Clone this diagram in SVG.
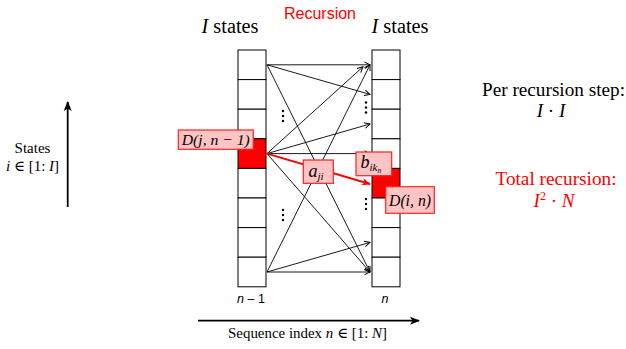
<svg xmlns="http://www.w3.org/2000/svg" width="626" height="349" viewBox="0 0 626 349">
<style>
.cell{fill:#fff;stroke:#000;stroke-width:1}
.red{fill:#ff0000;stroke:#000;stroke-width:1}
.ln{stroke:#000;stroke-width:0.9;fill:none}
.lbl{fill:#ffc4c4;stroke:#ff2020;stroke-width:1.2}
.m{font-family:"Liberation Serif","DejaVu Serif",serif;font-style:italic}
.t{font-family:"Liberation Serif","DejaVu Serif",serif}
.s{font-family:"Liberation Sans",Arial,sans-serif}
.dot{fill:#000}
</style>
<defs>
<marker id="ah" viewBox="0 0 10 10" refX="9" refY="5" markerWidth="7" markerHeight="7" markerUnits="userSpaceOnUse" orient="auto">
<path d="M1,1 L9,5 L1,9" fill="none" stroke="#000" stroke-width="1.4"/>
</marker>
<marker id="ahr" viewBox="0 0 10 10" refX="9" refY="5" markerWidth="9" markerHeight="9" markerUnits="userSpaceOnUse" orient="auto">
<path d="M0,1 L10,5 L0,9 L3,5 Z" fill="#ff0000"/>
</marker>
<marker id="ahb" viewBox="0 0 10 10" refX="9" refY="5" markerWidth="10" markerHeight="10" markerUnits="userSpaceOnUse" orient="auto">
<path d="M0,1 L10,5 L0,9 L2.5,5 Z" fill="#000"/>
</marker>
</defs>
<rect width="626" height="349" fill="#fff"/>

<g id="titles">
<text x="230" y="33" text-anchor="middle" font-size="20" class="t" textLength="57" lengthAdjust="spacingAndGlyphs"><tspan class="m">I</tspan> states</text>
<text x="400" y="33" text-anchor="middle" font-size="20" class="t" textLength="57" lengthAdjust="spacingAndGlyphs"><tspan class="m">I</tspan> states</text>
<text x="320" y="19" text-anchor="middle" font-size="16" class="s" fill="#ff0000">Recursion</text>
</g>

<g id="col-left">
<rect class="cell" x="238" y="50" width="28" height="29.6"/>
<rect class="cell" x="238" y="79.6" width="28" height="29.6"/>
<rect class="cell" x="238" y="109.2" width="28" height="29.6"/>
<rect class="red" x="238" y="138.8" width="28" height="29.6"/>
<rect class="cell" x="238" y="168.4" width="28" height="29.6"/>
<rect class="cell" x="238" y="198" width="28" height="29.6"/>
<rect class="cell" x="238" y="227.6" width="28" height="29.6"/>
<rect class="cell" x="238" y="257.2" width="28" height="29.6"/>
</g>
<g id="col-right">
<rect class="cell" x="372" y="50" width="28" height="29.6"/>
<rect class="cell" x="372" y="79.6" width="28" height="29.6"/>
<rect class="cell" x="372" y="109.2" width="28" height="29.6"/>
<rect class="cell" x="372" y="138.8" width="28" height="29.6"/>
<rect class="red" x="372" y="168.4" width="28" height="29.6"/>
<rect class="cell" x="372" y="198" width="28" height="29.6"/>
<rect class="cell" x="372" y="227.6" width="28" height="29.6"/>
<rect class="cell" x="372" y="257.2" width="28" height="29.6"/>
</g>

<g id="connectors">
<line class="ln" x1="267" y1="64.8" x2="370" y2="64.8" marker-end="url(#ah)"/>
<line class="ln" x1="267" y1="64.8" x2="370" y2="94.4" marker-end="url(#ah)"/>
<line class="ln" x1="267" y1="64.8" x2="370" y2="272" marker-end="url(#ah)"/>
<line class="ln" x1="267" y1="153.6" x2="363" y2="66.8" marker-end="url(#ah)"/>
<line class="ln" x1="267" y1="153.6" x2="370" y2="124" marker-end="url(#ah)"/>
<line class="ln" x1="267" y1="153.6" x2="370" y2="153.6" marker-end="url(#ah)"/>
<line class="ln" x1="267" y1="153.6" x2="370" y2="272" marker-end="url(#ah)"/>
<line class="ln" x1="267" y1="272" x2="370" y2="272" marker-end="url(#ah)"/>
<line class="ln" x1="267" y1="272" x2="370" y2="242.4" marker-end="url(#ah)"/>
<line class="ln" x1="267" y1="272" x2="370" y2="64.8" marker-end="url(#ah)"/>
<line x1="267" y1="153.6" x2="370" y2="184" stroke="#ff0000" stroke-width="2" marker-end="url(#ahr)"/>
<line x1="67.7" y1="207" x2="67.7" y2="102" stroke="#000" stroke-width="1.8" marker-end="url(#ahb)"/>
<line x1="198" y1="320.7" x2="419" y2="320.7" stroke="#000" stroke-width="1.8" marker-end="url(#ahb)"/>
</g>

<g id="dots">
<circle class="dot" cx="283" cy="111" r="1.2"/><circle class="dot" cx="283" cy="116" r="1.2"/><circle class="dot" cx="283" cy="121" r="1.2"/>
<circle class="dot" cx="366" cy="102.5" r="1.2"/><circle class="dot" cx="366" cy="107.5" r="1.2"/><circle class="dot" cx="366" cy="112.5" r="1.2"/>
<circle class="dot" cx="283" cy="210" r="1.2"/><circle class="dot" cx="283" cy="215" r="1.2"/><circle class="dot" cx="283" cy="220" r="1.2"/>
<circle class="dot" cx="366" cy="199" r="1.2"/><circle class="dot" cx="366" cy="204" r="1.2"/><circle class="dot" cx="366" cy="209" r="1.2"/>
</g>

<g id="label-Djn1">
<rect class="lbl" x="178.3" y="130" width="75" height="19.3"/>
<text x="215.8" y="145" text-anchor="middle" font-size="15.5" class="m" textLength="68" lengthAdjust="spacingAndGlyphs">D(j, n − 1)</text>
</g>
<g id="label-aji">
<rect class="lbl" x="303.3" y="160" width="30" height="23.3"/>
<text x="308.5" y="177" font-size="18" class="m">a<tspan font-size="11" dy="3">ji</tspan></text>
</g>
<g id="label-bikn">
<rect class="lbl" x="356" y="152" width="35.7" height="23.7"/>
<text x="360.5" y="168" font-size="18" class="m">b<tspan font-size="11" dy="3">ik</tspan><tspan font-size="7.5" dy="2">n</tspan></text>
</g>
<g id="label-Din">
<rect class="lbl" x="385.7" y="186.7" width="48.6" height="26.6"/>
<text x="410" y="205.5" text-anchor="middle" font-size="16" class="m" textLength="42" lengthAdjust="spacingAndGlyphs">D(i, n)</text>
</g>

<g id="axis-labels">
<text x="251" y="303" text-anchor="middle" font-size="12.5" class="s"><tspan font-style="italic">n</tspan> – 1</text>
<text x="385" y="303" text-anchor="middle" font-size="12.5" class="s" font-style="italic">n</text>
<text x="307.5" y="338" text-anchor="middle" font-size="15" class="t" textLength="159" lengthAdjust="spacingAndGlyphs">Sequence index <tspan class="m">n</tspan> ∈ [1: <tspan class="m">N</tspan>]</text>
<text x="32.5" y="153" text-anchor="middle" font-size="15" class="t">States</text>
<text x="32.5" y="171" text-anchor="middle" font-size="15" class="t"><tspan class="m">i</tspan> ∈ [1: <tspan class="m">I</tspan>]</text>
</g>

<g id="complexity">
<text x="553.5" y="96" text-anchor="middle" font-size="19" class="t" textLength="143" lengthAdjust="spacingAndGlyphs">Per recursion step:</text>
<text x="551" y="117" text-anchor="middle" font-size="19" class="t"><tspan class="m">I</tspan> · <tspan class="m">I</tspan></text>
<text x="556" y="185" text-anchor="middle" font-size="19" class="t" fill="#ff0000" textLength="121" lengthAdjust="spacingAndGlyphs">Total recursion:</text>
<text x="554" y="207" text-anchor="middle" font-size="19" class="t" fill="#ff0000"><tspan class="m">I</tspan><tspan font-size="12" dy="-7">2</tspan><tspan dy="7"> · </tspan><tspan class="m">N</tspan></text>
</g>
</svg>
